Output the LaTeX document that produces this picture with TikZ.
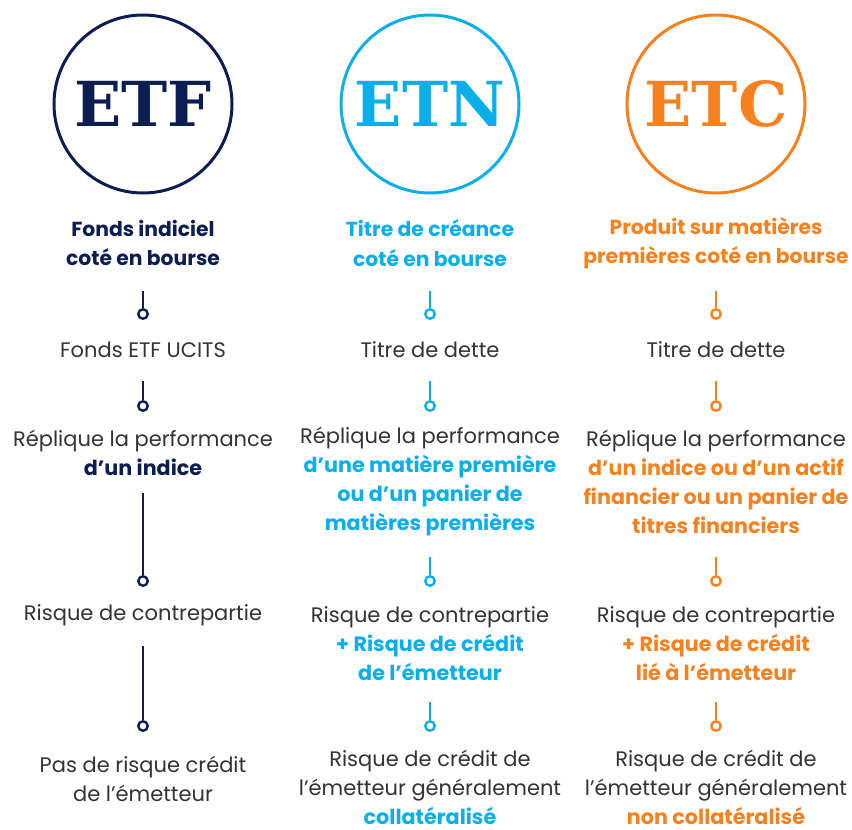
\documentclass[tikz,border=0pt]{standalone}
\usepackage{fontspec}
\setmainfont{Poppins}
\newfontfamily\badgefont{DejaVu Serif}
\usetikzlibrary{positioning}
\definecolor{etfnavy}{HTML}{0B1D51}
\definecolor{etncyan}{HTML}{0AAFEA}
\definecolor{etcorange}{HTML}{F5821F}
\definecolor{bodygray}{HTML}{333333}
\newcommand{\hlt}[2]{{\fontsize{20.7}{29}\selectfont\bfseries\color{#1}#2}}

\begin{document}
\begin{tikzpicture}[x=1pt,y=-1pt,badge/.style={shape=circle,draw,line width=3pt,minimum size=178pt,inner sep=0pt,font=\badgefont\bfseries\fontsize{62}{62}\selectfont},head/.style={align=center,font=\bfseries\fontsize{20.3}{29.5}\selectfont},info/.style={align=center,text=bodygray,font=\fontsize{21}{29}\selectfont},dot/.style={shape=circle,draw,line width=2.4pt,minimum size=9.5pt,inner sep=0pt},stem/.style={line width=2.3pt}]
\def\xa{143};
\def\xb{430};
\def\xc{716};

\useasboundingbox (0,0) rectangle (852,830);

\node[badge,etfnavy,text=etfnavy] (ETF) at (\xa,104) {ETF};
\node[badge,etncyan,text=etncyan] (ETN) at (\xb,104) {ETN};
\node[badge,etcorange,text=etcorange] (ETC) at (\xc,104) {ETC};

\node[head,text=etfnavy] (H1) at (\xa,243) {Fonds indiciel\\coté en bourse};
\node[head,text=etncyan] (H2) at (\xb,243) {Titre de créance\\coté en bourse};
\node[head,text=etcorange] (H3) at (\xc,243) {Produit sur matières\\premières coté en bourse};

\foreach \col/\x/\c in {1/\xa/etfnavy,2/\xb/etncyan,3/\xc/etcorange}{
  \coordinate (S\col a) at (\x,291);
  \node[dot,\c] (D\col a) at (\x,314) {};
  \draw[stem,\c] (S\col a) -- (D\col a);
  \coordinate (S\col b) at (\x,381);
  \node[dot,\c] (D\col b) at (\x,406) {};
  \draw[stem,\c] (S\col b) -- (D\col b);
}

\node[info] (A1) at (\xa,350) {Fonds ETF UCITS};
\node[info] (A2) at (\xb,350) {Titre de dette};
\node[info] (A3) at (\xc,350) {Titre de dette};

\node[info] (B1) at (\xa,453) {Réplique la performance\\\hlt{etfnavy}{d’un indice}};
\node[info] (B2) at (\xb,482) {Réplique la performance\\\hlt{etncyan}{d’une matière première}\\\hlt{etncyan}{ou d’un panier de}\\\hlt{etncyan}{matières premières}};
\node[info] (B3) at (\xc,482) {Réplique la performance\\\hlt{etcorange}{d’un indice ou d’un actif}\\\hlt{etcorange}{financier ou un panier de}\\\hlt{etcorange}{titres financiers}};

\coordinate (S1c) at (\xa,493);
\node[dot,etfnavy] (D1c) at (\xa,581) {};
\draw[stem,etfnavy] (S1c) -- (D1c);
\coordinate (S2c) at (\xb,557);
\node[dot,etncyan] (D2c) at (\xb,581) {};
\draw[stem,etncyan] (S2c) -- (D2c);
\coordinate (S3c) at (\xc,557);
\node[dot,etcorange] (D3c) at (\xc,581) {};
\draw[stem,etcorange] (S3c) -- (D3c);

\node[info] (C1) at (\xa,615) {Risque de contrepartie};
\node[info] (C2) at (\xb,644) {Risque de contrepartie\\\hlt{etncyan}{+ Risque de crédit}\\\hlt{etncyan}{de l’émetteur}};
\node[info] (C3) at (\xc,644) {Risque de contrepartie\\\hlt{etcorange}{+ Risque de crédit}\\\hlt{etcorange}{lié à l’émetteur}};

\coordinate (S1d) at (\xa,646);
\node[dot,etfnavy] (D1d) at (\xa,726) {};
\draw[stem,etfnavy] (S1d) -- (D1d);
\coordinate (S2d) at (\xb,702);
\node[dot,etncyan] (D2d) at (\xb,726) {};
\draw[stem,etncyan] (S2d) -- (D2d);
\coordinate (S3d) at (\xc,702);
\node[dot,etcorange] (D3d) at (\xc,726) {};
\draw[stem,etcorange] (S3d) -- (D3d);

\node[info] (E1) at (\xa,779) {Pas de risque crédit\\de l’émetteur};
\node[info] (E2) at (\xb,787) {Risque de crédit de\\l’émetteur généralement\\\hlt{etncyan}{collatéralisé}};
\node[info] (E3) at (\xc,787) {Risque de crédit de\\l’émetteur généralement\\\hlt{etcorange}{non collatéralisé}};
\end{tikzpicture}
\end{document}
